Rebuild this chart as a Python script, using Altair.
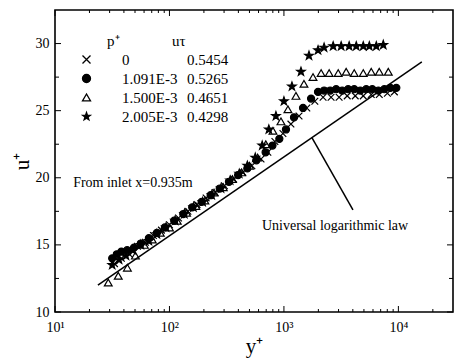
import altair as alt
import pandas as pd

SERIF = "Liberation Serif"

# legend columns
p_plus = ["0", "1.091E-3", "1.500E-3", "2.005E-3"]
u_tau = ["0.5454", "0.5265", "0.4651", "0.4298"]

# series 1: crosses (p+ = 0)
s1_y = [33.1, 38.0, 44.7, 52.5, 61.7, 72.4, 85.1, 100, 120, 145, 174, 209, 251, 302, 363, 437, 525,
        631, 724, 834, 980, 1151, 1355, 1585, 1862, 2198, 2582, 3034, 3573, 4198, 4932, 5794, 6808,
        8017, 9226]
s1_u = [13.6, 14.0, 14.3, 14.9, 15.2, 15.7, 16.1, 16.5, 17.0, 17.5, 18.0, 18.5, 18.9, 19.4, 19.9, 20.4,
        20.9, 21.4, 21.9, 22.7, 23.3, 24.0, 24.6, 25.2, 25.7, 26.0, 26.0, 26.0, 26.1, 26.1, 26.1, 26.2,
        26.2, 26.3, 26.4]

# series 2: filled circles (p+ = 1.091E-3)
s2_y = [31.6, 34.7, 38.0, 42.7, 49.0, 56.2, 66.1, 77.6, 91.2, 110, 132, 158, 191, 229, 275, 331, 398,
        479, 575, 692, 794, 912, 1042, 1225, 1469, 1726, 1986, 2244, 2535, 2858, 3228, 3639, 4111,
        4645, 5236, 5916, 6683, 7534, 8511, 9594]
s2_u = [14.0, 14.3, 14.5, 14.6, 14.8, 15.1, 15.5, 15.9, 16.3, 16.8, 17.3, 17.8, 18.2, 18.7, 19.2, 19.7,
        20.2, 20.7, 21.3, 21.9, 22.4, 22.9, 23.6, 24.5, 25.2, 25.9, 26.4, 26.5, 26.5, 26.6, 26.5, 26.6,
        26.6, 26.5, 26.6, 26.6, 26.5, 26.6, 26.7, 26.7]

# series 3: open triangles (p+ = 1.500E-3)
s3_y = [29.2, 35.7, 42.9, 50.4, 60.3, 70.8, 83.2, 100, 117, 141, 170, 204, 245, 295, 355, 427, 501,
        589, 695, 802, 942, 1084, 1274, 1496, 1795, 2113, 2483, 2979, 3499, 4111, 4932, 5794, 6808,
        8166]
s3_u = [12.2, 12.7, 13.3, 14.2, 15.0, 15.4, 15.9, 16.3, 16.8, 17.4, 17.9, 18.3, 18.9, 19.3, 19.9, 20.4,
        20.9, 21.5, 22.5, 23.5, 24.2, 25.1, 26.1, 27.0, 27.5, 27.8, 27.8, 27.8, 27.9, 27.8, 27.8, 27.9,
        27.9, 27.9]

# series 4: stars (p+ = 2.005E-3)
s4_y = [31.6, 36.3, 41.7, 47.9, 56.2, 66.1, 77.6, 93.3, 112, 135, 162, 195, 234, 282, 339, 407, 479,
        562, 646, 738, 851, 1000, 1175, 1409, 1656, 1986, 2244, 2692, 3162, 3715, 4285, 4932, 5572,
        6412, 7379]
s4_u = [13.5, 13.9, 14.2, 14.6, 15.0, 15.3, 15.8, 16.3, 16.8, 17.3, 17.8, 18.2, 18.7, 19.2, 19.8, 20.3,
        20.9, 21.5, 22.4, 23.6, 24.6, 25.7, 26.8, 27.9, 29.1, 29.5, 29.7, 29.8, 29.8, 29.8, 29.8, 29.8,
        29.8, 29.8, 29.9]

# universal logarithmic law (end points) and pointer
law_y = [23.7, 16030]
law_u = [12.0, 28.63]
ptr_y = [1756, 4009]
ptr_u = [23.0, 17.6]

notes_y = [14.4, 643]
notes_u = [19.6, 16.4]
notes_text = ["From inlet x=0.935m", "Universal logarithmic law"]

x_major = [10, 100, 1000, 10000]
x_minor = [20, 30, 40, 50, 60, 70, 80, 90, 200, 300, 400, 500, 600, 700, 800, 900,
           2000, 3000, 4000, 5000, 6000, 7000, 8000, 9000, 20000]
x_tick_labels = ["10¹", "10²", "10³", "10⁴"]
y_major = [10, 15, 20, 25, 30]
y_minor = [12.5, 17.5, 22.5, 27.5]

W, H = 398, 302
NB = "\u00a0"

# marker styling per series
CROSS = "M-1,-1L1,1M-1,1L1,-1"
STAR = ("M0,-1L0.235,-0.324L0.951,-0.309L0.380,0.124L0.588,0.809L0,0.4L-0.588,0.809"
        "L-0.380,0.124L-0.951,-0.309L-0.235,-0.324Z")
shapes = [CROSS, "circle", "triangle-up", STAR]
fills = ["transparent", "black", "transparent", "black"]
sizes = [45, 50, 60, 80]
kdom = [0, 1, 2, 3]

frames = []
for k, (xs_, us_) in enumerate(zip([s1_y, s2_y, s3_y, s4_y], [s1_u, s2_u, s3_u, s4_u])):
    frames.append(pd.DataFrame({"x": xs_, "y": us_, "k": k, "p": p_plus[k], "ut": u_tau[k],
                                "sz": sizes[k]}))
df_pts = pd.concat(frames, ignore_index=True)

xs = alt.Scale(type="log", domain=[10, 30000], nice=False)
ys = alt.Scale(domain=[10, 32.5], nice=False, zero=False)

lab_expr = " : ".join(
    f"datum.value == {v} ? '{t}'" for v, t in zip(x_major[:-1], x_tick_labels[:-1])
) + f" : '{x_tick_labels[-1]}'"

xax = alt.Axis(orient="bottom", values=x_major, labelExpr=lab_expr, title="y⁺", ticks=False,
               domain=False, grid=False,
               labelFont=SERIF, labelFontSize=14, labelPadding=8, labelFlush=False, labelOverlap=False,
               titleFont=SERIF, titleFontSize=21, titleFontWeight="normal", titlePadding=1,
               labelColor="black", titleColor="black")
yax = alt.Axis(orient="left", values=y_major, format="d", title="u⁺", ticks=False, domain=False,
               grid=False,
               labelFont=SERIF, labelFontSize=14, labelPadding=6, labelFlush=False, labelOverlap=False,
               titleFont=SERIF, titleFontSize=21, titleFontWeight="normal", titlePadding=3,
               labelColor="black", titleColor="black")

X = alt.X("x:Q", scale=xs, axis=xax)
Y = alt.Y("y:Q", scale=ys, axis=yax)

common = dict(orient="none", direction="vertical", labelFont=SERIF, labelFontSize=15,
              titleFont=SERIF, titleFontSize=15, titleFontWeight="normal",
              labelColor="black", titleColor="black", rowPadding=3, titlePadding=3,
              padding=0, labelLimit=300, titleLimit=300)

# symbol column
leg_sym = alt.Legend(title=None, legendX=24, legendY=42, labelExpr="'" + NB + "'",
                     symbolStrokeColor="black", symbolStrokeWidth=1.3, symbolSize=64,
                     labelOffset=2, **common)
# p+ column
leg_p = alt.Legend(title="p⁺", legendX=52, legendY=24, symbolSize=0, symbolOpacity=0,
                   labelOffset=0, **common)
# u_tau column
leg_u = alt.Legend(title="uτ", legendX=117, legendY=24, symbolSize=0, symbolOpacity=0,
                   symbolStrokeWidth=0, labelOffset=0, **common)

pts = alt.Chart(df_pts).mark_point(opacity=1).encode(
    x=X, y=Y,
    shape=alt.Shape("k:N", scale=alt.Scale(domain=kdom, range=shapes), legend=leg_sym),
    fill=alt.Fill("k:N", scale=alt.Scale(domain=kdom, range=fills), legend=leg_sym),
    stroke=alt.Stroke("k:N", scale=alt.Scale(domain=kdom, range=["black"] * 4), legend=leg_sym),
    size=alt.Size("sz:Q", scale=None),
    opacity=alt.Opacity("p:N", scale=alt.Scale(type="ordinal", domain=p_plus, range=[1, 1, 1, 1]),
                        legend=leg_p),
    strokeWidth=alt.StrokeWidth("ut:N", scale=alt.Scale(type="ordinal", domain=u_tau,
                                                         range=[1.2, 1.2, 1.2, 1.2]), legend=leg_u),
)

law = alt.Chart(pd.DataFrame({"x": law_y, "y": law_u})).mark_line(color="black", strokeWidth=1.5).encode(x=X, y=Y)
ptr = alt.Chart(pd.DataFrame({"x": ptr_y, "y": ptr_u})).mark_line(color="black", strokeWidth=1.5).encode(x=X, y=Y)

notes = alt.Chart(pd.DataFrame({"x": notes_y, "y": notes_u, "t": notes_text})).mark_text(
    align="left", baseline="middle", font=SERIF, fontSize=14, color="black"
).encode(x=X, y=Y, text="t:N")


def xticks(vals, length):
    d = pd.DataFrame({"x": vals})
    bottom = alt.Chart(d).mark_rule(color="black", strokeWidth=1).encode(
        x=X, y=alt.value(H), y2=alt.value(H - length))
    top = alt.Chart(d).mark_rule(color="black", strokeWidth=1).encode(
        x=X, y=alt.value(0), y2=alt.value(length))
    return [bottom, top]


def yticks(vals, length):
    d = pd.DataFrame({"y": vals})
    left = alt.Chart(d).mark_rule(color="black", strokeWidth=1).encode(
        y=Y, x=alt.value(0), x2=alt.value(length))
    right = alt.Chart(d).mark_rule(color="black", strokeWidth=1).encode(
        y=Y, x=alt.value(W), x2=alt.value(W - length))
    return [left, right]


tick_layers = xticks(x_major, 6) + xticks(x_minor, 3) + yticks(y_major, 6) + yticks(y_minor, 4)

chart = alt.layer(law, ptr, pts, notes, *tick_layers).properties(
    width=W, height=H,
    autosize=alt.AutoSizeParams(type="none"),
    padding={"left": 55, "top": 10, "right": 4, "bottom": 52},
    background="white",
).configure_view(stroke="black", strokeWidth=1.6)

chart.save("out.html", embed_options={"renderer": "svg", "actions": False})
